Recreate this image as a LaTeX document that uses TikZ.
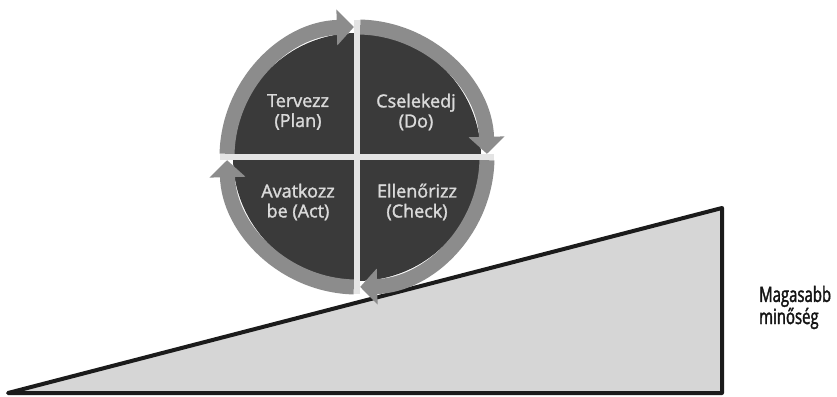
\documentclass[tikz,border=0pt]{standalone}
\usepackage{fontspec}
\setmainfont{Open Sans}
\newfontfamily\quadfont[FakeBold=1.6]{Open Sans}
\newfontfamily\sidefont[FakeStretch=0.71,FakeBold=1.8]{Open Sans}
\usetikzlibrary{arrows.meta}
\definecolor{bg}{HTML}{FFFFFF}
\definecolor{quadfill}{HTML}{3A3A3A}
\definecolor{ringgray}{HTML}{8C8C8C}
\definecolor{gapcol}{HTML}{E4E4E4}
\definecolor{wedgefill}{HTML}{D6D6D6}
\definecolor{edge}{HTML}{1B1B1B}
\definecolor{labeltext}{HTML}{DADADA}
\definecolor{sidetext}{HTML}{141414}
\tikzset{
  wedge/.style={draw=edge, fill=wedgefill, line width=4pt, line join=round},
  ring/.style={draw=ringgray, line width=15pt, -{Triangle[width=35pt,length=17pt]}},
  gap/.style={draw=gapcol, line width=6pt},
  quad/.style={text=labeltext, font=\quadfont\fontsize{18}{20}\selectfont, align=center, inner sep=0pt},
  side/.style={text=sidetext, font=\sidefont\fontsize{21}{20}\selectfont, align=left, inner sep=0pt, anchor=west},
}

\begin{document}
\begin{tikzpicture}[x=1pt,y=1pt]
  \useasboundingbox[fill=bg] (0,0) rectangle (837,396);

  \draw[wedge] (8,3) -- (722,188) -- (722,3) -- cycle;

  \coordinate (C) at (357,239);
  \fill[quadfill] (C) circle (124);

  % clockwise ring arrows
  \draw[ring] ([shift={(178.6:130)}]C) arc (178.6:91.4:130);
  \draw[ring] ([shift={(88.6:130)}]C) arc (88.6:1.4:130);
  \draw[ring] ([shift={(-1.4:130)}]C) arc (-1.4:-88.6:130);
  \draw[ring] ([shift={(-91.4:130)}]C) arc (-91.4:-178.6:130);

  \draw[gap] ([shift={(90:137)}]C) -- ([shift={(-90:137)}]C);
  \draw[gap] ([shift={(180:137)}]C) -- ([shift={(0:137)}]C);

  \node[quad] (plan) at (298,284) {Tervezz\\(Plan)};
  \node[quad] (do) at (416,284) {Cselekedj\\(Do)};
  \node[quad] (act) at (298,194) {Avatkozz\\be (Act)};
  \node[quad] (check) at (417,194) {Ellenőrizz\\(Check)};

  \node[side] (quality) at (759,88.5) {Magasabb\\minőség};
\end{tikzpicture}
\end{document}
